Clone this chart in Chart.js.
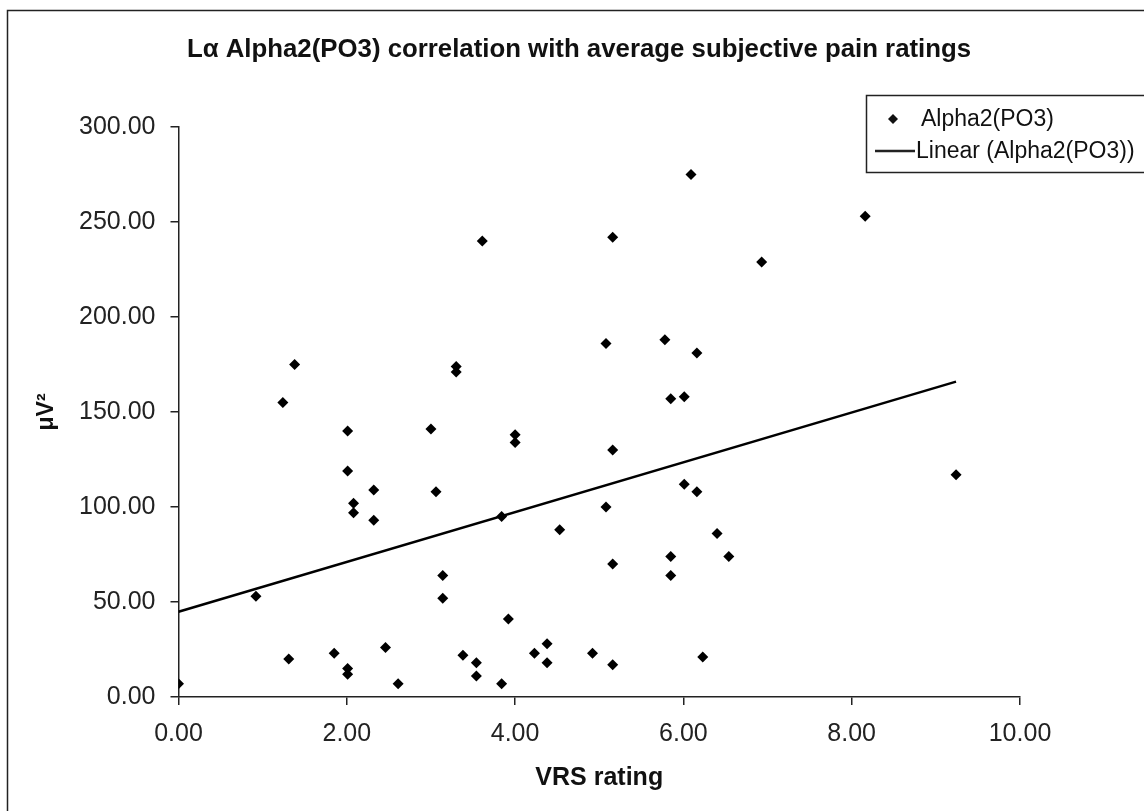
<!DOCTYPE html>
<html><head><meta charset="utf-8">
<script src="https://cdn.jsdelivr.net/npm/chart.js@4.4.1/dist/chart.umd.min.js"></script>
<style>html,body{margin:0;padding:0;background:#fff;} canvas{display:block;}</style>
</head><body>
<canvas id="c" width="1144" height="811"></canvas>
<script>
const chartTitle = "Lα Alpha2(PO3) correlation with average subjective pain ratings";
const xTitle = "VRS rating";
const yTitle = "μV²";
const seriesName = "Alpha2(PO3)";
const trendName = "Linear (Alpha2(PO3))";

const vrs = [0.00, 0.92, 1.24, 1.31, 1.38, 1.85, 2.01, 2.01, 2.01, 2.01, 2.08, 2.08, 2.32, 2.32, 2.46, 2.61,
  3.00, 3.06, 3.14, 3.14, 3.30, 3.30, 3.38, 3.54, 3.54, 3.61, 3.84, 3.84, 3.92, 4.00, 4.00, 4.23, 4.38, 4.38,
  4.53, 4.92, 5.08, 5.08, 5.16, 5.16, 5.16, 5.16, 5.78, 5.85, 5.85, 5.85, 6.01, 6.01, 6.09, 6.16, 6.16, 6.23,
  6.40, 6.54, 6.93, 8.16, 9.24];
const power = [7, 53, 155, 20, 175, 23, 140, 119, 15, 12, 102, 97, 109, 93, 26, 7,
  141, 108, 64, 52, 174, 171, 22, 18, 11, 240, 95, 7, 41, 138, 134, 23, 28, 18,
  88, 23, 186, 100, 242, 130, 70, 17, 188, 157, 74, 64, 158, 112, 275, 181, 108, 21,
  86, 74, 229, 253, 117];
const trendX = [0, 9.24];
const trendY = [44.9, 166.0];
const xMin = 0, xMax = 10, xStep = 2;
const yMin = 0, yMax = 300, yStep = 50;

const FONT = "'Liberation Sans', Arial, sans-serif";

const framePlugin = {
  id: 'frameLegend',
  afterDraw(chart) {
    const ctx = chart.ctx;
    ctx.save();
    // outer frame (cut at right/bottom edge)
    ctx.strokeStyle = '#222';
    ctx.lineWidth = 1.5;
    ctx.strokeRect(7.5, 10.5, 1160, 820);
    // title
    ctx.fillStyle = '#111';
    ctx.font = "bold 25.8px " + FONT;
    ctx.textAlign = 'center';
    ctx.textBaseline = 'middle';
    ctx.fillText(chartTitle, 579, 50);
    // legend box
    ctx.strokeRect(866.5, 95.5, 300, 77);
    ctx.font = "23px " + FONT;
    ctx.textAlign = 'left';
    ctx.fillStyle = '#111';
    // marker
    ctx.beginPath();
    ctx.moveTo(893, 114); ctx.lineTo(898, 119); ctx.lineTo(893, 124); ctx.lineTo(888, 119); ctx.closePath();
    ctx.fill();
    ctx.fillText(seriesName, 921, 120);
    ctx.lineWidth = 2.5;
    ctx.beginPath(); ctx.moveTo(875, 151); ctx.lineTo(915, 151); ctx.stroke();
    ctx.fillText(trendName, 916, 152);
    ctx.restore();
  }
};

const pts = vrs.map((x, i) => ({x: x, y: power[i]}));
const trend = trendX.map((x, i) => ({x: x, y: trendY[i]}));

new Chart(document.getElementById('c'), {
  type: 'scatter',
  data: {
    datasets: [
      {label: seriesName, data: pts, pointStyle: 'rectRot', pointRadius: 5.5, pointHoverRadius: 5.5,
       backgroundColor: '#000', borderColor: '#000', borderWidth: 0},
      {label: trendName, data: trend, showLine: true, pointRadius: 0, borderColor: '#000', borderWidth: 2.5,
       backgroundColor: '#000'}
    ]
  },
  options: {
    responsive: false,
    animation: false,
    layout: {padding: {left: 0, top: 127, right: 124, bottom: 0}},
    plugins: {legend: {display: false}, title: {display: false}, tooltip: {enabled: false}},
    scales: {
      x: {
        type: 'linear', min: xMin, max: xMax,
        ticks: {stepSize: xStep, callback: v => Number(v).toFixed(2), color: '#222', padding: 14,
                font: {family: FONT, size: 25}, maxRotation: 0},
        grid: {drawOnChartArea: false, drawTicks: true, tickLength: 8, color: '#222', lineWidth: 1.5},
        border: {display: true, color: '#222', width: 1.5},
        title: {display: true, text: xTitle, color: '#111', font: {family: FONT, size: 25, weight: 'bold'},
                padding: {top: 0, bottom: 18}},
        afterFit(s) { s.height = 114; }
      },
      y: {
        type: 'linear', min: yMin, max: yMax,
        ticks: {stepSize: yStep, callback: v => Number(v).toFixed(2), color: '#222', padding: 15,
                font: {family: FONT, size: 25}},
        grid: {drawOnChartArea: false, drawTicks: true, tickLength: 8, color: '#222', lineWidth: 1.5},
        border: {display: true, color: '#222', width: 1.5},
        title: {display: true, text: yTitle, color: '#111', font: {family: FONT, size: 23, weight: 'bold'},
                padding: {top: 33, bottom: 0}},
        afterFit(s) { s.width = 178.5; }
      }
    }
  },
  plugins: [framePlugin]
});
</script>
</body></html>
